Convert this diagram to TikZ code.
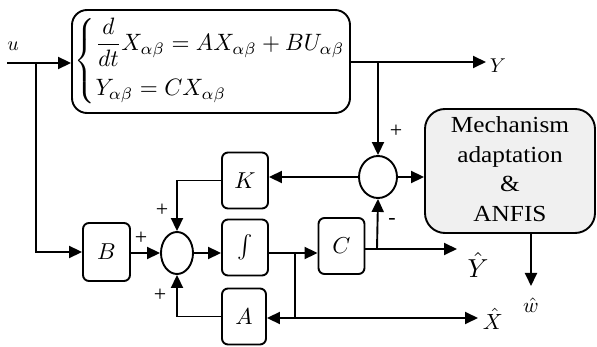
\documentclass[tikz,border=0pt]{standalone}
\usepackage{graphicx}
\usepackage{fontspec}
\setmainfont{Liberation Serif}
\usetikzlibrary{arrows.meta,shapes.geometric}
\newcommand{\sz}[2]{\scalebox{#1}{$#2$}}
\begin{document}
\begin{tikzpicture}[x=1pt,y=-1pt,
  line width=1.9pt,
  arr/.style={-{Triangle[length=13pt,width=12pt]}},
  blk/.style={draw,rounded corners=6pt,minimum width=46pt,minimum height=56pt,inner sep=0pt},
  sumnode/.style={draw,ellipse,inner sep=0pt},
  sgn/.style={font=\fontsize{22}{24}\selectfont,inner sep=0pt},
  lab/.style={inner sep=0pt}
]
\useasboundingbox (0,0) rectangle (597,347);

% system box
\node[draw,rounded corners=15pt,minimum width=278pt,minimum height=103pt,inner sep=0pt] (sys) at (211,61.5) {};
\node[anchor=west,inner sep=0pt] (eq) at (74,61)
  {\resizebox*{272pt}{86pt}{$\left\{\begin{array}{@{}l@{}}\displaystyle\frac{d}{dt}X_{\alpha\beta}=AX_{\alpha\beta}+BU_{\alpha\beta}\\[7pt] Y_{\alpha\beta}=CX_{\alpha\beta}\end{array}\right.$}};

% mechanism box
\node[draw,rounded corners=20pt,fill=black!6,minimum width=170pt,minimum height=124pt,inner sep=0pt,
  font=\fontsize{23}{29.5}\selectfont] (mech) at (510,171)
  {\raisebox{-3pt}{\scalebox{1.1}[1]{\begin{tabular}{@{}c@{}}Mechanism\\adaptation\\\&\\ANFIS\end{tabular}}}};

% blocks
\node[blk] (K) at (245,180.5) {\sz{2.3}{K}};
\node[blk] (I) at (245,247.5) {\sz{2.3}{\int}};
\node[blk,minimum width=44pt] (A) at (244,316.5) {\sz{2.3}{A}};
\node[blk,minimum width=47pt,minimum height=58pt] (B) at (106.5,252) {\sz{2.3}{B}};
\node[blk] (C) at (341.5,246) {\sz{2.3}{C}};

% summing junctions
\node[sumnode,minimum width=32pt,minimum height=42pt] (S1) at (177,253) {};
\node[sumnode,minimum width=38pt,minimum height=42pt] (S2) at (378,177) {};

% labels
\node[lab] (ulab) at (13,46) {\sz{2}{u}};
\node[lab,anchor=west] (Ylab) at (489,66) {\sz{2}{Y}};
\node[lab] (Yhat) at (478,265) {\sz{2.6}{\hat{Y}}};
\node[lab,anchor=west] (Xhat) at (482,319) {\sz{2.2}{\hat{X}}};
\node[lab] (what) at (531,305) {\sz{2.1}{\hat{w}}};

% coordinates
\coordinate (uin) at (7,63);
\coordinate (ub) at (36,63);
\coordinate (yb) at (378,62);
\coordinate (ib) at (295,253);
\coordinate (ibd) at (295,318);
\coordinate (cb) at (377,249);
\coordinate (yhend) at (457,249);
\coordinate (yend) at (486,62);
\coordinate (xend) at (478,318);
\coordinate (wend) at (531,286);

% connectors
\draw[arr] (uin) -- (uin -| sys.west);
\draw[arr] (ub) |- (B.west);
\draw[arr] (sys.east |- yb) -- (yend);
\draw[arr] (yb) -- (S2.north);
\draw[arr] (S2.west) -- (S2.west -| K.east);
\draw[arr] (S2.east) -- (S2.east -| mech.west);
\draw[arr] (wend |- mech.south) -- (wend);
\draw[arr] (K.west) -| (S1.north);
\draw[arr] (A.west) -| (S1.south);
\draw[arr] (B.east |- S1.west) -- (S1.west);
\draw[arr] (S1.east) -- (S1.east -| I.west);
\draw[arr] (I.east |- ib) -- (ib -| C.west);
\draw (ib) -- (ibd);
\draw[arr] (ibd) -- (ibd -| A.east);
\draw[arr] (ibd) -- (xend);
\draw[arr] (C.east |- cb) -- (yhend);
\draw[arr] (cb) -- (S2.south);

% signs
\node[sgn] (p1) at (141,238) {+};
\node[sgn] (p2) at (162,210) {+};
\node[sgn] (p3) at (160,295) {+};
\node[sgn] (p4) at (396,131) {+};
\node[sgn] (m1) at (392,221) {-};
\end{tikzpicture}
\end{document}
